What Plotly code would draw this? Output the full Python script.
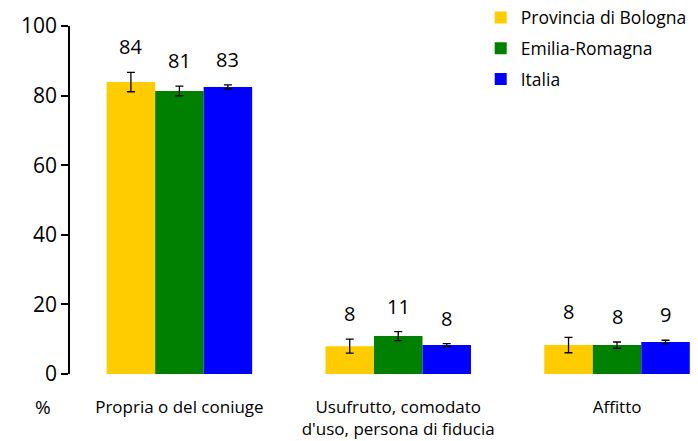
import plotly.graph_objects as go

categories = ["Propria o del coniuge", "Usufrutto, comodato<br>d'uso, persona di fiducia", "Affitto"]
series_names = ["Provincia di Bologna", "Emilia-Romagna", "Italia"]
colors = ["#FFCC00", "#008000", "#0000FF"]
values = [
    [83.9, 8.0, 8.3],
    [81.3, 10.9, 8.3],
    [82.5, 8.3, 9.2],
]
errors = [
    [2.8, 2.0, 2.2],
    [1.4, 1.3, 0.9],
    [0.6, 0.4, 0.5],
]
labels = [
    ["84", "8", "8"],
    ["81", "11", "8"],
    ["83", "8", "9"],
]
y_ticks = [0, 20, 40, 60, 80, 100]

FONT = "Open Sans, sans-serif"
bargap = 0.335
w = (1 - bargap) / 3
xs = list(range(len(categories)))

fig = go.Figure()
for j, name in enumerate(series_names):
    fig.add_trace(go.Bar(
        x=xs, y=values[j], name=name, marker_color=colors[j], marker_line_width=0,
        legendgroup=name,
        error_y=dict(type="data", array=errors[j], color="black", thickness=1.3, width=4),
    ))

annotations = []
for j in range(len(series_names)):
    for i in xs:
        annotations.append(dict(
            x=i + (j - 1) * w, y=values[j][i] + errors[j][i], xref="x", yref="y",
            text=labels[j][i], showarrow=False, yanchor="bottom", yshift=10,
            font=dict(size=20, color="black", family=FONT),
        ))
annotations.append(dict(x=(43 - 70) / 628, y=(441 - 407 - 67) / 348, xref="paper", yref="paper",
                        text="%", showarrow=False, xanchor="center", yanchor="middle",
                        font=dict(size=19, color="black", family=FONT)))

fig.update_layout(
    width=698, height=441,
    margin=dict(l=70, r=0, t=26, b=67, autoexpand=False),
    paper_bgcolor="white", plot_bgcolor="white",
    barmode="group", bargap=bargap, bargroupgap=0,
    font=dict(family=FONT, color="black"),
    showlegend=True,
    legend=dict(x=0.654, y=1.076, xanchor="left", yanchor="top", font=dict(size=17.5, family=FONT),
                bgcolor="rgba(0,0,0,0)", itemwidth=30, tracegroupgap=5, traceorder="grouped"),
    xaxis=dict(range=[-0.5, 2.37], tickmode="array", tickvals=xs, ticktext=categories,
               showline=False, showgrid=False, zeroline=False, ticks="", ticklabelstandoff=21,
               tickfont=dict(size=17, family=FONT)),
    yaxis=dict(range=[0, 100], tickmode="array", tickvals=y_ticks, showgrid=False, zeroline=False,
               showline=True, linecolor="black", linewidth=1.5, ticks="outside", ticklen=7,
               tickcolor="black", tickwidth=1.5, tickfont=dict(size=21, family=FONT)),
    annotations=annotations,
)
fig.write_html("out.html", config={"displayModeBar": False},
               post_script="document.body.style.margin='0';document.body.style.padding='0';")
